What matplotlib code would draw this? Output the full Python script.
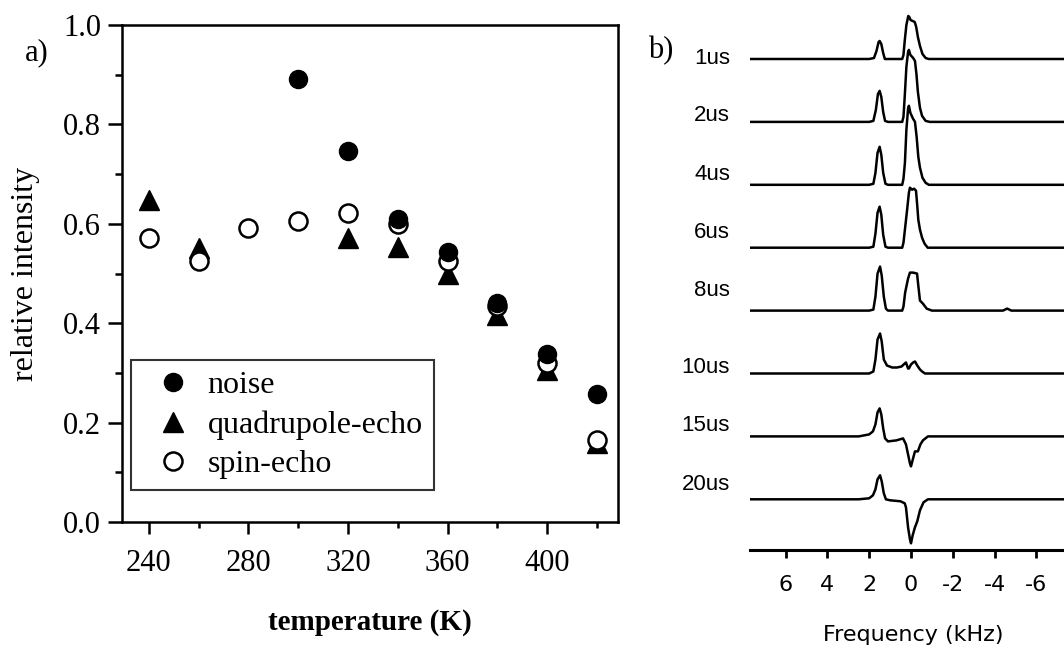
import numpy as np
import matplotlib
matplotlib.use("Agg")
import matplotlib.pyplot as plt
import matplotlib.ticker as mtick
from matplotlib.lines import Line2D

plt.rcParams["axes.unicode_minus"] = False

# --- panel a: relative intensity vs temperature ---
temp_noise = [300, 320, 340, 360, 380, 400, 420]
val_noise = [0.892, 0.747, 0.610, 0.543, 0.440, 0.338, 0.258]

temp_quad = [240, 260, 320, 340, 360, 380, 400, 420]
val_quad = [0.647, 0.552, 0.571, 0.554, 0.500, 0.417, 0.305, 0.158]

temp_spin = [240, 260, 280, 300, 320, 340, 360, 380, 400, 420]
val_spin = [0.571, 0.525, 0.591, 0.606, 0.622, 0.600, 0.525, 0.435, 0.320, 0.165]

legend_labels = ["noise", "quadrupole-echo", "spin-echo"]

# --- panel b: spectra (frequency kHz, amplitude) ---
trace_labels = ["1us", "2us", "4us", "6us", "8us", "10us", "15us", "20us"]

spec_1us = [(7.7, 0), (2.0, 0), (1.77, 1), (1.65, 8), (1.55, 17), (1.5, 18), (1.42, 15),
            (1.33, 6), (1.25, 0), (0.42, 0), (0.36, 4), (0.3, 18), (0.22, 34), (0.13, 43),
            (0.08, 42), (0.02, 39), (-0.08, 38), (-0.18, 37), (-0.25, 32), (-0.33, 22),
            (-0.43, 13), (-0.55, 5), (-0.7, 1), (-0.85, 0), (-8.5, 0)]
spec_2us = [(7.7, 0), (2.0, 0), (1.8, 1), (1.68, 12), (1.58, 28), (1.5, 31), (1.42, 25),
            (1.33, 10), (1.24, 1), (1.1, 0), (0.42, 0), (0.36, 5), (0.3, 25), (0.22, 55),
            (0.14, 70), (0.1, 72), (0.03, 67), (-0.1, 64), (-0.19, 61), (-0.26, 48),
            (-0.33, 30), (-0.43, 14), (-0.53, 6), (-0.7, 1), (-0.9, 0), (-8.5, 0)]
spec_4us = [(7.7, 0), (2.0, 0), (1.8, 1), (1.7, 12), (1.6, 32), (1.5, 38), (1.42, 30),
            (1.33, 12), (1.22, 1), (1.1, 0), (0.42, 0), (0.36, 6), (0.29, 22), (0.22, 55),
            (0.14, 76), (0.1, 79), (0.03, 72), (-0.1, 66), (-0.19, 63), (-0.27, 48),
            (-0.35, 28), (-0.43, 17), (-0.55, 7), (-0.7, 2), (-0.85, 0), (-8.5, 0)]
spec_6us = [(7.7, 0), (2.0, 0), (1.8, 1), (1.7, 14), (1.6, 35), (1.5, 41), (1.42, 33),
            (1.33, 13), (1.22, 1), (1.1, 0), (0.42, 0), (0.36, 5), (0.28, 20), (0.19, 37),
            (0.1, 55), (0.05, 60), (-0.05, 58), (-0.15, 59), (-0.24, 57), (-0.3, 42),
            (-0.35, 28), (-0.43, 18), (-0.53, 10), (-0.65, 4), (-0.8, 0), (-8.5, 0)]
spec_8us = [(7.7, 0), (2.0, 0), (1.8, 1), (1.7, 14), (1.6, 37), (1.48, 44), (1.4, 35),
            (1.3, 14), (1.2, 2), (1.1, 0), (0.42, 0), (0.36, 4), (0.28, 18), (0.14, 32),
            (0.05, 38), (-0.1, 38), (-0.29, 37), (-0.35, 25), (-0.43, 10), (-0.57, 7),
            (-0.75, 2), (-1.0, 0), (-4.4, 0), (-4.6, 2), (-4.8, 0), (-8.5, 0)]
spec_10us = [(7.7, 0), (2.0, 0), (1.8, 2), (1.7, 14), (1.6, 34), (1.48, 40), (1.4, 32),
             (1.3, 14), (1.15, 8), (0.9, 6), (0.67, 6), (0.45, 7), (0.3, 10), (0.24, 11),
             (0.14, 5), (0.1, 5), (0.0, 9), (-0.1, 11), (-0.19, 12), (-0.3, 8),
             (-0.43, 4), (-0.53, 2), (-0.67, 0), (-8.5, 0)]
spec_15us = [(7.7, 0), (2.5, 0), (2.0, 2), (1.82, 5), (1.7, 12), (1.6, 24), (1.5, 28),
             (1.42, 22), (1.33, 8), (1.24, -2), (1.1, -5), (0.7, -4), (0.38, -2),
             (0.24, -8), (0.14, -18), (0.05, -27), (0.0, -30), (-0.1, -22), (-0.19, -15),
             (-0.33, -15), (-0.45, -8), (-0.57, -4), (-0.81, 0), (-8.5, 0)]
spec_20us = [(7.7, 0), (2.5, 0), (2.0, 1), (1.82, 4), (1.7, 10), (1.6, 20), (1.48, 24),
             (1.4, 18), (1.3, 6), (1.2, 0), (1.0, -1), (0.5, -2), (0.3, -4), (0.24, -8),
             (0.14, -28), (0.05, -40), (0.0, -44), (-0.08, -36), (-0.19, -28),
             (-0.3, -22), (-0.43, -11), (-0.6, -3), (-0.81, 0), (-8.5, 0)]

spectra = [spec_1us, spec_2us, spec_4us, spec_6us, spec_8us, spec_10us, spec_15us, spec_20us]
freq_ticks = [6, 4, 2, 0, -2, -4, -6]

serif = "Liberation Serif"
fig = plt.figure(figsize=(10.64, 6.47), dpi=100)

# ---------------- panel a ----------------
ax = fig.add_axes([122 / 1064, 125 / 647, 496 / 1064, 497 / 647])
ax.plot(temp_quad, val_quad, linestyle="none", marker="^", markersize=14,
        color="black", zorder=3)
ax.plot(temp_spin, val_spin, linestyle="none", marker="o", markersize=13,
        markerfacecolor="white", markeredgecolor="black", markeredgewidth=1.8, zorder=4)
ax.plot(temp_noise, val_noise, linestyle="none", marker="o", markersize=13,
        color="black", zorder=5)

ax.set_xlim(229.2, 428.4)
ax.set_ylim(0, 1.0)
ax.set_xticks([240, 280, 320, 360, 400])
ax.set_xticks([260, 300, 340, 380, 420], minor=True)
ax.set_yticks([0.0, 0.2, 0.4, 0.6, 0.8, 1.0])
ax.set_yticks([0.1, 0.3, 0.5, 0.7, 0.9], minor=True)
ax.yaxis.set_major_formatter(mtick.FormatStrFormatter("%.1f"))
ax.tick_params(axis="both", which="both", direction="out", width=1.8, colors="black")
ax.tick_params(axis="y", which="major", length=10, pad=5)
ax.tick_params(axis="y", which="minor", length=5)
ax.tick_params(axis="x", which="major", length=8.6, pad=11)
ax.tick_params(axis="x", which="minor", length=4.3)
for lab in ax.get_xticklabels() + ax.get_yticklabels():
    lab.set_fontfamily(serif)
    lab.set_fontsize(22)
for sp in ax.spines.values():
    sp.set_linewidth(1.8)

ax.set_xlabel("temperature (K)", fontfamily=serif, fontsize=21, fontweight="bold",
              labelpad=22)
ax.set_ylabel("relative intensity", fontfamily=serif, fontsize=23, labelpad=17)

handles = [
    Line2D([], [], linestyle="none", marker="o", markersize=13, color="black"),
    Line2D([], [], linestyle="none", marker="^", markersize=14, color="black"),
    Line2D([], [], linestyle="none", marker="o", markersize=13, markerfacecolor="white",
           markeredgecolor="black", markeredgewidth=1.8),
]
leg = ax.legend(handles, legend_labels, loc="lower left", bbox_to_anchor=(0.018, 0.064),
                prop={"family": serif, "size": 23}, frameon=True, fancybox=False,
                edgecolor="black", borderpad=0.35, handletextpad=0.1, labelspacing=0.31,
                handlelength=1.95, borderaxespad=0)
leg.get_frame().set_linewidth(1.5)

fig.text(25 / 1064, 1 - 53 / 647, "a)", fontfamily=serif, fontsize=22, va="center")

# ---------------- panel b ----------------
ax2 = fig.add_axes([750 / 1064, 97 / 647, 338.7 / 1064, 540 / 647])
base0 = 491
step = 62.9
label_dy = [1, 6, 10, 15, 20, 6, 11, 15]
for i, spec in enumerate(spectra):
    f = np.array([p[0] for p in spec])
    a = np.array([p[1] for p in spec])
    base = base0 - i * step
    ax2.plot(f, a + base, color="black", linewidth=1.8, solid_joinstyle="round")
    ax2.text(8.66, base + label_dy[i], trace_labels[i], ha="right", va="center",
             fontfamily="Liberation Sans", fontsize=16, clip_on=False)

ax2.set_xlim(7.7, -8.5)
ax2.set_ylim(0, 540)
ax2.set_xticks(freq_ticks)
ax2.set_xticklabels([str(t) for t in freq_ticks])
ax2.set_yticks([])
for name in ["top", "right", "left"]:
    ax2.spines[name].set_visible(False)
ax2.spines["bottom"].set_linewidth(2.2)
ax2.tick_params(axis="x", direction="out", length=6, width=2, pad=12, labelsize=16)
for lab in ax2.get_xticklabels():
    lab.set_fontfamily("DejaVu Sans")
ax2.patch.set_alpha(0)

fig.text(648 / 1064, 1 - 51 / 647, "b)", fontfamily=serif, fontsize=22, va="center")
fig.text(913 / 1064, 1 - 635 / 647, "Frequency (kHz)", fontfamily="DejaVu Sans",
         fontsize=16, ha="center", va="center")

fig.savefig("out.png", dpi=100)
